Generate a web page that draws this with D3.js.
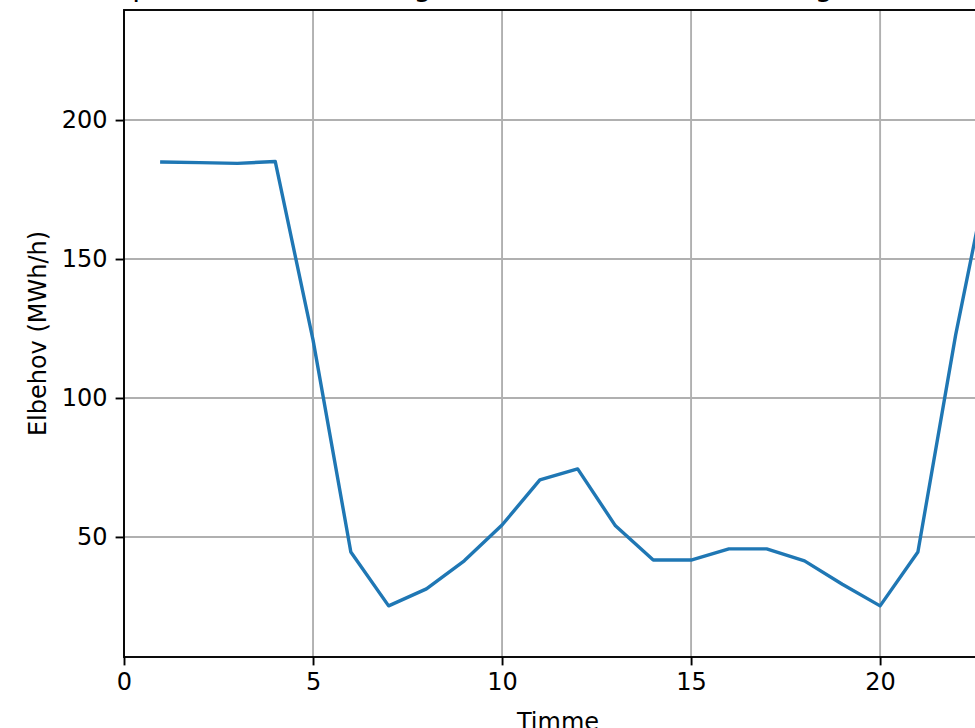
<!DOCTYPE html>
<html>
<head>
<meta charset="utf-8">
<script src="https://cdn.jsdelivr.net/npm/d3@7"></script>
<style>
  html, body { margin: 0; padding: 0; background: #fff; overflow: hidden; }
  svg { display: block; font-family: "DejaVu Sans", sans-serif; }
</style>
</head>
<body>
<svg id="chart" width="975" height="728"></svg>
<script>
// ---- data ----
const hours = [1, 2, 3, 4, 5, 6, 7, 8, 9, 10, 11, 12, 13, 14, 15, 16, 17, 18, 19, 20, 21, 22, 23];
const demand = [184.9, 184.7, 184.4, 185.1, 120.9, 44.6, 25.2, 31.3, 41.4, 54.3, 70.5, 74.5,
                54.0, 41.7, 41.7, 45.7, 45.7, 41.4, 33.0, 25.2, 44.6, 122.8, 190];
const xTicks = [0, 5, 10, 15, 20];
const yTicks = [50, 100, 150, 200];
const titleText = "Elbehov pr. time for alle boliger i hele området til ladning af elbiler";
const xLabel = "Timme";
const yLabel = "Elbehov (MWh/h)";

// ---- layout ----
const svg = d3.select("#chart");
const mLeft = 124, mTop = 10, mBottom = 657, mRight = 992;
const fs = 24;

const x = d3.scaleLinear().domain([0, 22.96]).range([mLeft, mRight]);
const y = d3.scaleLinear().domain([6.8, 239.6]).range([mBottom, mTop]);

svg.append("defs").append("clipPath").attr("id", "clip")
  .append("rect").attr("x", mLeft).attr("y", mTop)
  .attr("width", mRight - mLeft).attr("height", mBottom - mTop);

// grid
const grid = svg.append("g");
grid.selectAll("line.vx").data(xTicks).join("line")
  .attr("class", "vx")
  .attr("x1", d => x(d)).attr("x2", d => x(d))
  .attr("y1", mTop).attr("y2", mBottom)
  .attr("stroke", "#b0b0b0").attr("stroke-width", 1.9);
grid.selectAll("line.hy").data(yTicks).join("line")
  .attr("class", "hy")
  .attr("x1", mLeft).attr("x2", mRight)
  .attr("y1", d => y(d)).attr("y2", d => y(d))
  .attr("stroke", "#b0b0b0").attr("stroke-width", 1.9);

// line
const line = d3.line().x((d, i) => x(hours[i])).y(d => y(d));
svg.append("path")
  .datum(demand)
  .attr("clip-path", "url(#clip)")
  .attr("fill", "none")
  .attr("stroke", "#1f77b4")
  .attr("stroke-width", 3.4)
  .attr("stroke-linejoin", "round")
  .attr("stroke-linecap", "square")
  .attr("d", line);

// axes
const xAxis = d3.axisBottom(x).tickValues(xTicks).tickSize(8.4).tickPadding(8).tickFormat(d3.format("d"));
const yAxis = d3.axisLeft(y).tickValues(yTicks).tickSize(8.4).tickPadding(8).tickFormat(d3.format("d"));

const gx = svg.append("g").attr("transform", `translate(0,${mBottom})`).call(xAxis);
const gy = svg.append("g").attr("transform", `translate(${mLeft},0)`).call(yAxis);
[gx, gy].forEach(g => {
  g.select(".domain").remove();
  g.selectAll(".tick line").attr("stroke", "#000").attr("stroke-width", 1.9);
  g.selectAll(".tick text").attr("fill", "#000").style("font-size", fs + "px")
    .style("font-family", "DejaVu Sans, sans-serif");
});

// spines
svg.append("rect")
  .attr("x", mLeft).attr("y", mTop)
  .attr("width", mRight - mLeft).attr("height", mBottom - mTop)
  .attr("fill", "none").attr("stroke", "#000").attr("stroke-width", 1.9);

// labels
svg.append("text")
  .attr("x", (mLeft + mRight) / 2).attr("y", 730)
  .attr("text-anchor", "middle")
  .style("font-size", fs + "px").attr("fill", "#000")
  .text(xLabel);

svg.append("text")
  .attr("transform", `translate(46,${(mTop + mBottom) / 2}) rotate(-90)`)
  .attr("text-anchor", "middle")
  .style("font-size", fs + "px").attr("fill", "#000")
  .text(yLabel);

svg.append("text")
  .attr("x", 8).attr("y", -4.4)
  .style("font-size", "28.8px").attr("fill", "#000")
  .text(titleText);
</script>
</body>
</html>
